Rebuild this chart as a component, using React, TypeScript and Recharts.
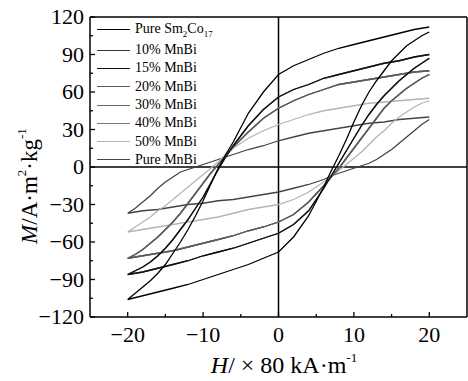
import React from "react";
import { LineChart, Line, XAxis, YAxis, ReferenceLine } from "recharts";

// field grids (×80 kA/m); upper branch is dense on the negative side, lower on the positive
const UPPER_H = [-20, -19, -18, -17, -16, -15, -14, -13, -12, -11, -10, -9, -8, -7, -6, -4, -2, 0, 2, 4, 6, 8, 10, 12, 14, 16, 18, 20];
const LOWER_H = [-20, -18, -16, -14, -12, -10, -8, -6, -4, -2, 0, 2, 4, 6, 7, 8, 9, 10, 11, 12, 13, 14, 15, 16, 17, 18, 19, 20];

// magnetisation (A·m²/kg)
const SM_UPPER = [-106, -101, -96, -91, -85, -78, -69, -60, -50, -39, -27, -14, -1, 10, 20, 43, 60, 74, 81, 86, 91, 95, 98, 101, 104, 107, 110, 112];
const SM_LOWER = [-106, -103, -100, -97, -94, -90, -86, -82, -78, -73, -68, -56, -39, -16, -3, 9, 22, 36, 49, 60, 69, 77, 85, 91, 97, 101, 105, 108];

const MN15_UPPER = [-86, -83, -80, -76, -71, -65, -58, -50, -42, -33, -24, -13, -2, 8, 17, 33, 46, 56, 62, 66, 71, 74, 77, 80, 83, 85, 88, 90];
const MN15_LOWER = [-86, -84, -81, -78, -75, -71, -68, -65, -61, -57, -53, -46, -35, -17, -7, 3, 13, 23, 33, 42, 50, 57, 63, 69, 74, 79, 83, 87];

const MN20_UPPER = [-73, -70, -66, -61, -56, -50, -44, -37, -29, -21, -13, -5, 2, 9, 16, 28, 39, 47, 53, 58, 62, 66, 68, 70, 72, 74, 76, 77];
const MN20_LOWER = [-73, -71, -69, -67, -64, -61, -58, -55, -51, -48, -44, -38, -28, -15, -8, -1, 7, 15, 23, 31, 39, 47, 53, 58, 63, 67, 71, 74];

const MN50_UPPER = [-52, -48, -44, -40, -35, -31, -26, -21, -16, -11, -6, -1, 4, 10, 15, 23, 29, 34, 38, 42, 45, 47, 49, 51, 52, 53, 54, 55];
const MN50_LOWER = [-52, -50, -48, -46, -44, -42, -40, -37, -34, -32, -30, -26, -20, -12, -7, -3, 2, 7, 12, 18, 24, 29, 35, 40, 44, 48, 51, 53];

const MNBI_UPPER = [-37, -33, -28, -23, -17, -12, -8, -4, -2, 0, 2, 4, 6, 8, 10, 14, 17, 21, 24, 27, 29, 31, 33, 35, 36, 38, 39, 40];
const MNBI_LOWER = [-37, -35, -34, -32, -30, -29, -27, -26, -24, -22, -20, -17, -14, -10, -7, -5, -3, -1, 1, 3, 6, 10, 14, 19, 24, 29, 34, 38];

const X_TICKS = [-20, -15, -10, -5, 0, 5, 10, 15, 20];
const Y_TICKS = [-120, -105, -90, -75, -60, -45, -30, -15, 0, 15, 30, 45, 60, 75, 90, 105, 120];

const SERIF = "'Liberation Serif', 'Times New Roman', serif";

const buildLoop = (upper: number[], lower: number[]) => [
  ...UPPER_H.map((h, i) => ({ h, m: upper[i] })).reverse(),
  ...LOWER_H.map((h, i) => ({ h, m: lower[i] })),
];

// 10%, 30% and 40% lie under the visible loops in the picture
const SERIES = [
  { key: "10", label: "10% MnBi", color: "#3a3a3a", upper: MN15_UPPER, lower: MN15_LOWER },
  { key: "30", label: "30% MnBi", color: "#676767", upper: MN20_UPPER, lower: MN20_LOWER },
  { key: "40", label: "40% MnBi", color: "#7a7a7a", upper: MN20_UPPER, lower: MN20_LOWER },
  { key: "mnbi", label: "Pure MnBi", color: "#444444", upper: MNBI_UPPER, lower: MNBI_LOWER },
  { key: "50", label: "50% MnBi", color: "#b4b4b4", upper: MN50_UPPER, lower: MN50_LOWER },
  { key: "20", label: "20% MnBi", color: "#5a5a5a", upper: MN20_UPPER, lower: MN20_LOWER },
  { key: "15", label: "15% MnBi", color: "#111111", upper: MN15_UPPER, lower: MN15_LOWER },
  { key: "sm", label: "Pure Sm2Co17", color: "#000000", upper: SM_UPPER, lower: SM_LOWER },
];

const LEGEND_ORDER = ["sm", "10", "15", "20", "30", "40", "50", "mnbi"];

const fmt = (v: number) => (v < 0 ? `\u2212${-v}` : `${v}`);

const BottomTick = ({ x, y, payload }: any) => {
  const major = payload.value % 10 === 0;
  return (
    <g>
      <line x1={x} y1={y} x2={x} y2={y - (major ? 5 : 3)} stroke="#000" strokeWidth={1.3} />
      {major && (
        <text x={x} y={y + 25} textAnchor="middle" fontSize={22} fontFamily={SERIF} fill="#000">
          {fmt(payload.value)}
        </text>
      )}
    </g>
  );
};

const TopTick = ({ x, y, payload }: any) => {
  const major = payload.value % 10 === 0;
  return <line x1={x} y1={y} x2={x} y2={y + (major ? 5 : 3)} stroke="#000" strokeWidth={1.3} />;
};

const LeftTick = ({ x, y, payload }: any) => {
  const major = payload.value % 30 === 0;
  return (
    <g>
      <line x1={x} y1={y} x2={x + (major ? 5 : 3)} y2={y} stroke="#000" strokeWidth={1.3} />
      {major && (
        <text x={x - 6} y={y + 7} textAnchor="end" fontSize={22} fontFamily={SERIF} fill="#000">
          {fmt(payload.value)}
        </text>
      )}
    </g>
  );
};

const RightTick = ({ x, y, payload }: any) => {
  const major = payload.value % 30 === 0;
  return <line x1={x} y1={y} x2={x - (major ? 5 : 3)} y2={y} stroke="#000" strokeWidth={1.3} />;
};

const XTitle = () => (
  <text x={284} y={373} textAnchor="middle" fontSize={24} fontFamily={SERIF} fill="#000">
    <tspan fontStyle="italic">H</tspan>
    <tspan>/ × 80 kA·m</tspan>
    <tspan fontSize={13} dy={-11}>-1</tspan>
  </text>
);

const YTitle = () => (
  <text x={0} y={0} transform="translate(37,186) rotate(-90)" textAnchor="middle" fontSize={23} fontFamily={SERIF} fill="#000">
    <tspan fontStyle="italic">M</tspan>
    <tspan>/A·m</tspan>
    <tspan fontSize={13} dy={-11}>2</tspan>
    <tspan dy={11}>·kg</tspan>
    <tspan fontSize={13} dy={-11}>-1</tspan>
  </text>
);

const LegendLabel = ({ label }: { label: string }) =>
  label === "Pure Sm2Co17" ? (
    <span>
      Pure Sm<sub style={{ fontSize: 9 }}>2</sub>Co<sub style={{ fontSize: 9 }}>17</sub>
    </span>
  ) : (
    <span>{label}</span>
  );

export default function App() {
  return (
    <div style={{ position: "absolute", left: 0, top: 0, width: 468, height: 381, background: "#fff" }}>
      <LineChart width={468} height={381} margin={{ top: 16, right: 0, bottom: 24, left: 0 }}>
        <XAxis
          dataKey="h"
          type="number"
          domain={[-25, 25]}
          ticks={X_TICKS}
          interval={0}
          height={40}
          tickSize={0}
          tickMargin={0}
          tick={<BottomTick />}
          axisLine={{ stroke: "#000", strokeWidth: 1.5 }}
          label={<XTitle />}
        />
        <XAxis
          xAxisId="top"
          orientation="top"
          type="number"
          domain={[-25, 25]}
          ticks={X_TICKS}
          interval={0}
          height={1}
          tickSize={0}
          tickMargin={0}
          tick={<TopTick />}
          axisLine={{ stroke: "#000", strokeWidth: 1.5 }}
        />
        <YAxis
          type="number"
          domain={[-120, 120]}
          ticks={Y_TICKS}
          interval={0}
          width={90}
          tickSize={0}
          tickMargin={0}
          tick={<LeftTick />}
          axisLine={{ stroke: "#000", strokeWidth: 1.5 }}
          label={<YTitle />}
        />
        <YAxis
          yAxisId="right"
          orientation="right"
          type="number"
          domain={[-120, 120]}
          ticks={Y_TICKS}
          interval={0}
          width={1}
          tickSize={0}
          tickMargin={0}
          tick={<RightTick />}
          axisLine={{ stroke: "#000", strokeWidth: 1.5 }}
        />
        <ReferenceLine x={0} stroke="#000" strokeWidth={1.5} />
        <ReferenceLine y={0} stroke="#000" strokeWidth={1.5} />
        {SERIES.map((s) => (
          <Line
            key={s.key}
            data={buildLoop(s.upper, s.lower)}
            dataKey="m"
            name={s.label}
            type="linear"
            dot={false}
            stroke={s.color}
            strokeWidth={1.3}
            isAnimationActive={false}
          />
        ))}
      </LineChart>

      {/* Legend */}
      <div style={{ position: "absolute", left: 97, top: 18, fontFamily: SERIF, fontSize: 14, color: "#000" }}>
        {LEGEND_ORDER.map((k, i) => {
          const s = SERIES.find((x) => x.key === k)!;
          return (
            <div key={k} style={{ display: "flex", alignItems: "center", height: i === 0 ? 23 : 18.3 }}>
              <div style={{ width: 33, borderTop: `1.4px solid ${s.color}`, marginRight: 5 }} />
              <LegendLabel label={s.label} />
            </div>
          );
        })}
      </div>
    </div>
  );
}
